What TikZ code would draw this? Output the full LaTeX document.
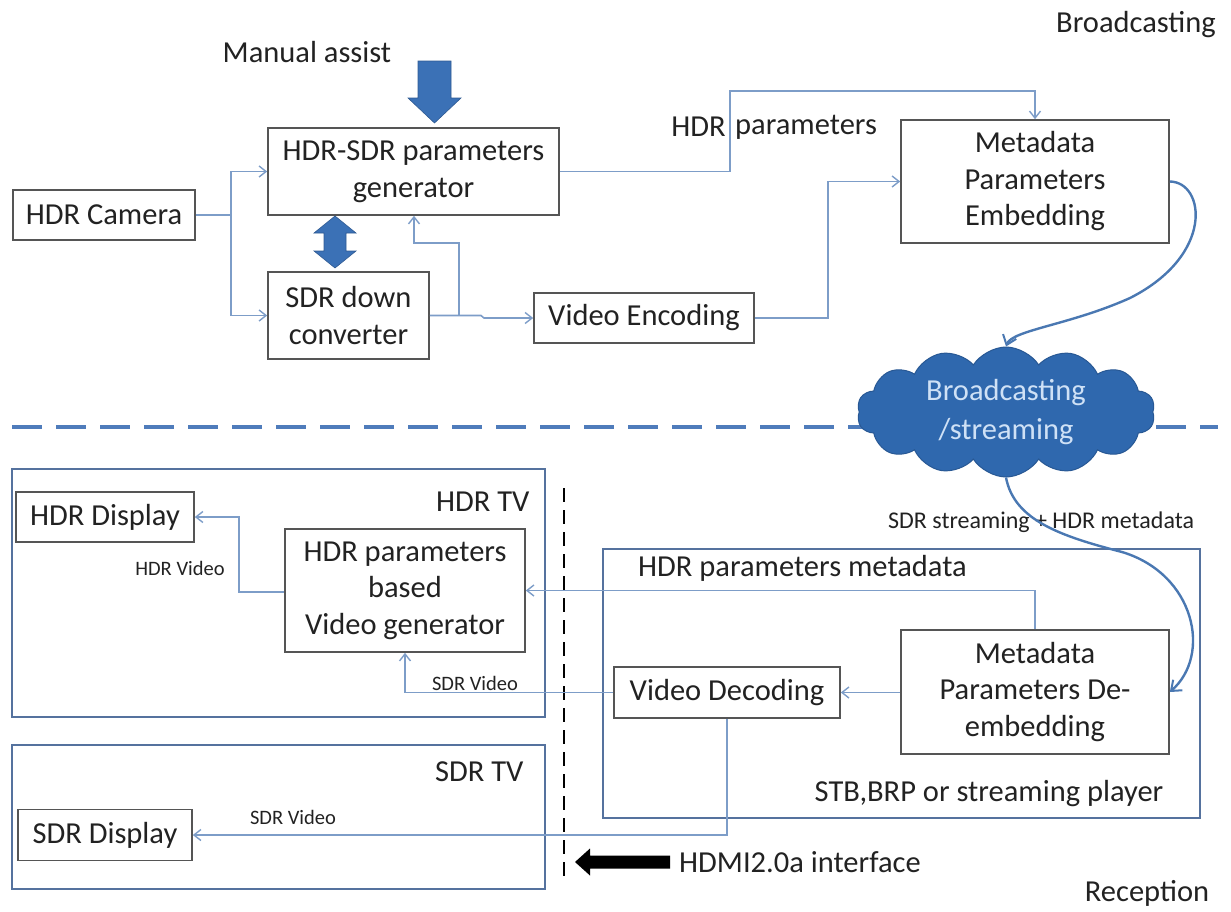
\documentclass[tikz,border=0pt]{standalone}
\usepackage{fontspec}
\setmainfont{Carlito}
\usetikzlibrary{shapes.symbols,arrows.meta,calc}
\definecolor{linkblue}{HTML}{7D9DC8}
\definecolor{curveblue}{HTML}{4A78B2}
\definecolor{frameblue}{HTML}{55729E}
\definecolor{boxgray}{HTML}{555555}
\definecolor{txt}{HTML}{222222}
\definecolor{bigblue}{HTML}{3B71B6}
\definecolor{cloudblue}{HTML}{2F68AE}
\definecolor{cloudtext}{HTML}{CFE1F6}
\definecolor{sepblue}{HTML}{4F7CBB}

\begin{document}
\begin{tikzpicture}[x=1pt,y=-1pt,
  every node/.style={font=\fontsize{30.5}{36.5}\selectfont, text=txt},
  blk/.style={draw=boxgray, line width=1.6pt, align=center, inner sep=0pt, fill=white},
  frame/.style={draw=frameblue, line width=2.6pt},
  plain/.style={draw=linkblue, line width=1.6pt},
  link/.style={plain, -{Straight Barb[length=7pt,width=11pt,line width=1.4pt]}},
  curve/.style={draw=curveblue, line width=2.4pt, -{Straight Barb[length=9pt,width=14pt,line width=2pt]}},
  small/.style={font=\fontsize{20.5}{24}\selectfont},
  mid/.style={font=\fontsize{24}{28}\selectfont},
  bigarrow/.style={fill=bigblue, draw=bigblue!80!black, line width=0.6pt}
]
\useasboundingbox (0,0) rectangle (1231,911);

% ---------- broadcasting side ----------
\node (bclabel) at (1136,25) {Broadcasting};
\node[anchor=base] (manual) at (307,62) {Manual assist};

\node[blk, minimum width=182, minimum height=50] (cam) at (104,215) {HDR Camera};
\node[blk, minimum width=291, minimum height=87] (gen) at (413.5,171.5) {HDR-SDR parameters\\generator};
\node[blk, minimum width=161, minimum height=87] (sdc) at (348.5,315.5) {SDR down\\converter};
\node[blk, minimum width=220, minimum height=50] (venc) at (644,318) {Video Encoding};
\node[blk, minimum width=268, minimum height=123] (emb) at (1035,181.5) {Metadata\\Parameters\\Embedding};

% manual assist arrow
\fill[bigarrow] (418,61) -- (451,61) -- (451,98) -- (461,98) -- (434.5,123) -- (408,98) -- (418,98) -- cycle;
% two-way arrow between generator and down converter
\fill[bigarrow] (335,216) -- (356,233) -- (346,233) -- (346,251) -- (356,251) -- (335,268)
  -- (314,251) -- (324,251) -- (324,233) -- (314,233) -- cycle;

% camera feed
\coordinate (j1) at (231,215);
\draw[plain] (cam.east) -- (j1);
\draw[link] (j1) |- (gen.west);
\draw[link] (j1) |- (sdc.west);

% down converter to encoder, with branch back to the generator
\coordinate (s1) at (481,315.5);
\coordinate (s2) at (484,318);
\draw[link] (sdc.east) -- (s1) -- (s2) -- (venc.west);
\coordinate (b1) at (459,315.5);
\coordinate (b2) at (414,243);
\draw[link] (b1) |- (b2) -- (b2 |- gen.south);

% HDR parameters to embedding
\coordinate (hp) at (730,91);
\draw[link] (gen.east) -| (hp) -| (emb.north);
\node[anchor=east, inner sep=0pt] (hplabel) at (726,127) {HDR};
\node[anchor=west, inner sep=0pt] (hplabel2) at (735,127) {parameters};

% encoded video to embedding
\coordinate (vx) at (828,318);
\draw[link] (venc.east) -- (vx) |- (emb.west);

% separator between broadcasting and reception
\draw[sepblue, line width=4pt, dash pattern=on 30pt off 14pt] (12,427) -- (1218,427);

% broadcasting / streaming cloud
\node[cloud, cloud puffs=14, cloud puff arc=115, aspect=2.3, minimum width=298, minimum height=130,
  fill=cloudblue, draw=cloudblue!85!black, line width=1pt, inner sep=0pt, align=center,
  font=\fontsize{30.5}{39}\selectfont, text=cloudtext] (cloud) at (1006,412) {Broadcasting\\/streaming};

\draw[curve] (emb.east) .. controls (1205,182) and (1215,255) .. (1130,298)
  .. controls (1070,325) and (1012,330) .. (cloud.north);

% ---------- reception side ----------
\draw[frame] (12,469) rectangle (545,717);
\draw[frame] (12,745) rectangle (545,889);
\draw[frame] (603,549) rectangle (1200,818);

\node[anchor=east] (hdrtv) at (533,502) {HDR TV};
\node[anchor=east] (sdrtv) at (527,772) {SDR TV};
\node (stblabel) at (989,794) {STB,BRP or streaming player};
\node[anchor=west, inner sep=0pt] (pmlabel) at (638,568) {HDR parameters metadata};

\node[blk, minimum width=178, minimum height=50] (hdisp) at (105,517) {HDR Display};
\node[blk, minimum width=240, minimum height=123] (vgen) at (405,590.5) {HDR parameters\\based\\Video generator};
\node[blk, minimum width=226, minimum height=51] (vdec) at (727,692.5) {Video Decoding};
\node[blk, minimum width=268, minimum height=124] (deemb) at (1035,692) {Metadata\\Parameters De-\\embedding};
\node[blk, minimum width=174, minimum height=51] (sdisp) at (105,835) {SDR Display};

% interface line
\draw[black, line width=2.6pt, dash pattern=on 14pt off 8pt] (564,488) -- (564,882);

% connectors inside the receiver chain
\draw[link] (deemb.north) |- (vgen.east);
\draw[link] (deemb.west |- vdec.east) -- (vdec.east);
\draw[link] (vdec.west) -| (vgen.south);
\draw[link] (vdec.south) |- (sdisp.east);
\coordinate (hv) at (239,592);
\draw[link] (vgen.west |- hv) -- (hv) |- (hdisp.east);

\node[small] (hvlabel) at (180,568) {HDR Video};
\node[small] (svlabel1) at (475,683) {SDR Video};
\node[small] (svlabel2) at (293,817) {SDR Video};

% stream into the receiver
\node[mid, anchor=west, inner sep=0pt] (streamlabel) at (888,522) {SDR streaming + HDR metadata};
\draw[curve] (cloud.south) .. controls (1014,520) and (1060,536) .. (1122,552)
  .. controls (1195,574) and (1212,655) .. (deemb.east);

% HDMI interface arrow
\fill[black] (575,862) -- (590,848.5) -- (590,855.5) -- (670,855.5) -- (670,868.5) -- (590,868.5) -- (590,875.5) -- cycle;
\node[anchor=west, inner sep=0pt] (hdmi) at (679,862) {HDMI2.0a interface};
\node (rxlabel) at (1147,893) {Reception};
\end{tikzpicture}
\end{document}
